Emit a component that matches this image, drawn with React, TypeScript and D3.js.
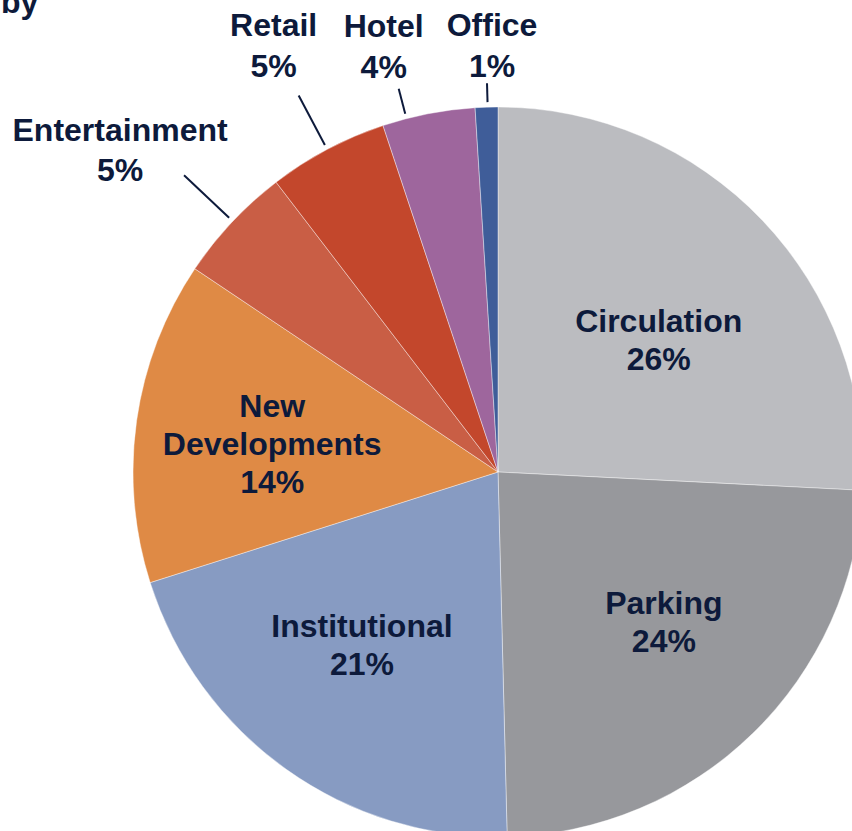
import React, { useEffect, useRef } from 'react';
import * as d3 from 'd3';

// slices, clockwise from 12 o'clock
const categories = ['Circulation', 'Parking', 'Institutional', 'New Developments', 'Entertainment', 'Retail', 'Hotel', 'Office'];
const values = [25.8, 23.8, 20.5, 14.3, 5.2, 5.3, 4.1, 1.0];
const pctLabels = ['26%', '24%', '21%', '14%', '5%', '5%', '4%', '1%'];
const colors = ['#BBBCC0', '#97989C', '#879BC2', '#DF8A45', '#C95E45', '#C3472C', '#9E669D', '#3F5D99'];

// small nudges of the inside labels from the arc centroid (best-fit placement)
const inside: Record<string, { dx: number; dy: number }> = {
  Circulation: { dx: 2, dy: 19 },
  Parking: { dx: 13, dy: -7 },
  Institutional: { dx: -9, dy: -5 },
  'New Developments': { dx: -9, dy: 3 },
};

// labels drawn outside the pie with a leader line
// at = where the leader touches inside the slice (0..1), len = leader length,
// dx/dy = label centre / last baseline relative to leader end
const outside: Record<string, { at: number; len: number; dx: number; dy: number; lh: number }> = {
  Entertainment: { at: 0.51, len: 62, dx: -64, dy: 6, lh: 40 },
  Retail: { at: 0.5, len: 56, dx: -25, dy: -19, lh: 41 },
  Hotel: { at: 0.26, len: 26, dx: -15, dy: -11, lh: 41 },
  Office: { at: 0.55, len: 19, dx: 5, dy: -6, lh: 41 },
};

const W = 852;
const H = 831;
const textColor = '#0D1A3B';
const font = 'Arial, "Liberation Sans", sans-serif';
const fontSize = 32;

export default function App() {
  const ref = useRef<SVGSVGElement>(null);

  useEffect(() => {
    const svg = d3.select(ref.current);
    svg.selectAll('*').remove();

    const cx = 498;
    const cy = 472;
    const r = 365;

    const pie = d3.pie<number>().sort(null).startAngle(0).endAngle(2 * Math.PI);
    const arcs = pie(values);
    const arc = d3.arc<d3.PieArcDatum<number>>().innerRadius(0).outerRadius(r);
    const labelArc = d3.arc<d3.PieArcDatum<number>>().innerRadius(r * 0.6).outerRadius(r * 0.6);

    const g = svg.append('g').attr('transform', `translate(${cx},${cy})`);

    g.selectAll('path.slice')
      .data(arcs)
      .enter()
      .append('path')
      .attr('class', 'slice')
      .attr('d', arc)
      .attr('fill', (d, i) => colors[i])
      .attr('stroke', '#ffffff')
      .attr('stroke-opacity', 0.5)
      .attr('stroke-width', 0.8);

    // inside labels
    arcs.forEach((d, i) => {
      const name = categories[i];
      if (outside[name]) return;
      const [cxl, cyl] = labelArc.centroid(d);
      const n = inside[name] || { dx: 0, dy: 0 };
      const x = cxl + n.dx;
      const y = cyl + n.dy;
      const lines = name === 'New Developments' ? ['New', 'Developments', pctLabels[i]] : [name, pctLabels[i]];
      const lh = 38;
      const t = g.append('text')
        .attr('text-anchor', 'middle')
        .attr('font-family', font)
        .attr('font-weight', 'bold')
        .attr('font-size', fontSize)
        .attr('fill', textColor);
      lines.forEach((s, k) => {
        t.append('tspan')
          .attr('x', x)
          .attr('y', y + (k - (lines.length - 1) / 2) * lh + 11)
          .text(s);
      });
    });

    // outside labels with leader lines
    arcs.forEach((d, i) => {
      const name = categories[i];
      const o = outside[name];
      if (!o) return;
      const a = d.startAngle + (d.endAngle - d.startAngle) * o.at;
      const sx = Math.sin(a);
      const sy = -Math.cos(a);
      const r0 = r + 5;
      const x0 = sx * r0, y0 = sy * r0;
      const x1 = sx * (r0 + o.len), y1 = sy * (r0 + o.len);
      g.append('line')
        .attr('x1', x0).attr('y1', y0)
        .attr('x2', x1).attr('y2', y1)
        .attr('stroke', textColor)
        .attr('stroke-width', 2);
      const t = g.append('text')
        .attr('text-anchor', 'middle')
        .attr('font-family', font)
        .attr('font-weight', 'bold')
        .attr('font-size', fontSize)
        .attr('fill', textColor);
      t.append('tspan').attr('x', x1 + o.dx).attr('y', y1 + o.dy - o.lh).text(name);
      t.append('tspan').attr('x', x1 + o.dx).attr('y', y1 + o.dy).text(pctLabels[i]);
    });

    // cropped title remnant
    svg.append('text')
      .attr('x', 1)
      .attr('y', 13)
      .attr('font-family', font)
      .attr('font-weight', 'bold')
      .attr('font-size', fontSize)
      .attr('fill', textColor)
      .text('by');
  }, []);

  return (
    <div style={{ position: 'absolute', left: 0, top: 0, width: W, height: H, overflow: 'hidden', background: '#fff' }}>
      <svg ref={ref} width={W} height={H}></svg>
    </div>
  );
}
